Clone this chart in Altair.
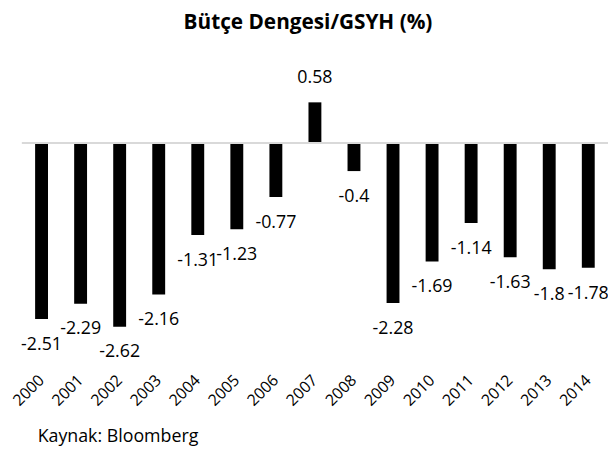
import altair as alt
import pandas as pd

years = [str(y) for y in range(2000, 2015)]
values = [-2.51, -2.29, -2.62, -2.16, -1.31, -1.23, -0.77, 0.58, -0.4,
          -2.28, -1.69, -1.14, -1.63, -1.8, -1.78]
labels = ["-2.51", "-2.29", "-2.62", "-2.16", "-1.31", "-1.23", "-0.77", "0.58", "-0.4",
          "-2.28", "-1.69", "-1.14", "-1.63", "-1.8", "-1.78"]
title_text = "Bütçe Dengesi/GSYH (%)"
source_text = "Kaynak: Bloomberg"

df = pd.DataFrame({"year": years, "value": values, "label": labels})
df["sign"] = ["pos" if v >= 0 else "neg" for v in values]

FONT = "Open Sans"

x_enc = alt.X("year:N", sort=years,
              scale=alt.Scale(paddingInner=0.67, paddingOuter=0.34),
              axis=alt.Axis(title=None, labelAngle=-45, labelAlign="right", labelBaseline="middle",
                            domain=False, ticks=False, labelPadding=17, labelFontSize=16,
                            labelFont=FONT, labelColor="#000000"))
y_scale = alt.Scale(domain=[-3.1, 1.1], nice=False, zero=True)

base = alt.Chart(df)

bars = base.mark_bar(color="#000000").encode(
    x=x_enc,
    y=alt.Y("value:Q", scale=y_scale, axis=None),
    y2=alt.datum(0),
)

zero_line = alt.Chart(pd.DataFrame({"z": [0]})).mark_rule(color="#d9d9d9", strokeWidth=2).encode(
    y=alt.Y("z:Q", scale=y_scale, axis=None)
)

neg_text = base.transform_filter(alt.datum.sign == "neg").mark_text(
    fontSize=18, font=FONT, color="#000000", baseline="middle", dy=26
).encode(
    x=alt.X("year:N", sort=years),
    y=alt.Y("value:Q", scale=y_scale, axis=None),
    text="label:N",
)

pos_text = base.transform_filter(alt.datum.sign == "pos").mark_text(
    fontSize=18, font=FONT, color="#000000", baseline="middle", dy=-25
).encode(
    x=alt.X("year:N", sort=years),
    y=alt.Y("value:Q", scale=y_scale, axis=None),
    text="label:N",
)

source = alt.Chart(pd.DataFrame({"t": [source_text]})).mark_text(
    fontSize=18, font=FONT, color="#000000", align="left", baseline="middle"
).encode(
    x=alt.value(16), y=alt.value(376), text="t:N"
)

chart = alt.layer(bars, zero_line, neg_text, pos_text, source).properties(
    width=593,
    height=298,
    title=alt.TitleParams(title_text, font=FONT, fontSize=21, fontWeight="bold",
                          color="#000000", anchor="middle", offset=33, dx=-7),
    autosize=alt.AutoSizeParams(type="none"),
    padding={"left": 14, "top": 56, "right": 0, "bottom": 84},
).configure_view(stroke=None)

chart.save("out.html", embed_options={"renderer": "svg", "actions": False})
